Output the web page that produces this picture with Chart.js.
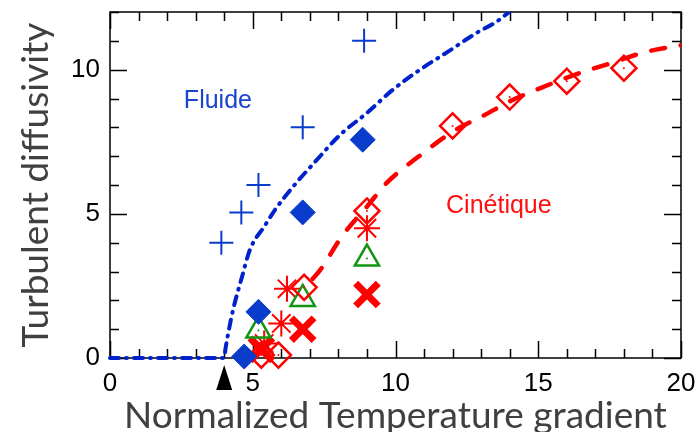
<!DOCTYPE html>
<html>
<head>
<meta charset="utf-8">
<script src="https://cdn.jsdelivr.net/npm/chart.js@4.4.0/dist/chart.umd.min.js"></script>
<style>
  html, body { margin: 0; padding: 0; background: #fff; }
  #wrap { width: 700px; height: 432px; }
</style>
</head>
<body>
<div id="wrap"><canvas id="chart" width="700" height="432"></canvas></div>
<script>
// axis tick labels
const xTicks = [0, 5, 10, 15, 20];
const yTicks = [0, 5, 10];
const threshold = 4;

// fluid model (blue dash-dot)
const fluideX = [0, 4.0, 4.05, 4.13, 4.31, 4.62, 4.9, 5.43, 5.78, 6.41, 7.18, 8.06, 9.0, 9.9, 10.86, 11.8, 12.85, 13.55, 14.1];
const fluideY = [0, 0, 0.35, 0.8, 1.67, 2.8, 3.75, 4.6, 5.14, 5.94, 6.8, 7.74, 8.5, 9.3, 10.0, 10.6, 11.28, 11.67, 12.1];

// kinetic model (red dashed)
const cinetiqueX = [7.1, 7.36, 8.16, 9.0, 9.7, 10.96, 12.0, 13.07, 14.1, 15.3, 16.5, 17.6, 18.7, 20];
const cinetiqueY = [2.75, 3.05, 4.27, 5.25, 6.08, 7.1, 7.85, 8.4, 8.95, 9.45, 9.9, 10.24, 10.6, 10.85];

// simulation points
const plusX = [3.9, 4.6, 5.2, 6.75, 8.9];
const plusY = [4.0, 5.05, 6.0, 8.0, 11.0];
const blueDiamondX = [4.7, 5.2, 6.75, 8.85];
const blueDiamondY = [0.05, 1.6, 5.05, 7.57];
const triangleX = [5.2, 6.75, 9.0];
const triangleY = [0.95, 2.05, 3.45];
const starX = [5.4, 6.0, 6.2, 9.0];
const starY = [0.5, 1.2, 2.4, 4.5];
const boldX = [5.3, 6.75, 9.0];
const boldY = [0.3, 1.0, 2.2];
const redDiamondX = [5.3, 5.9, 6.8, 9.0, 12, 14, 16, 18];
const redDiamondY = [0.1, 0.1, 2.45, 5.1, 8.05, 9.05, 9.6, 10.05];

// text annotations
const labels = [
  { text: 'Fluide', x: 3.78, y: 8.9, color: '#1a44d0' },
  { text: 'Cinétique', x: 13.62, y: 5.27, color: '#ff1010' }
];

const BLUE = '#0a3ccc';
const RED = '#ff0000';
const GREEN = '#129612';

const pts = (xs, ys) => xs.map((x, i) => ({ x: x, y: ys[i] }));

const frameTicks = {
  id: 'frameTicks',
  beforeDatasetsDraw(chart) {
    const { ctx, chartArea: a, scales: { x, y } } = chart;
    ctx.save();
    ctx.strokeStyle = '#000';
    ctx.lineWidth = 1.5;
    ctx.strokeRect(a.left, a.top, a.right - a.left, a.bottom - a.top);
    ctx.beginPath();
    for (let v = x.min; v <= x.max; v++) {
      const px = Math.round(x.getPixelForValue(v)) + 0.5;
      const len = v % 5 === 0 ? 17 : 9;
      ctx.moveTo(px, a.bottom); ctx.lineTo(px, a.bottom - len);
      ctx.moveTo(px, a.top); ctx.lineTo(px, a.top + len);
    }
    for (let v = y.min; v <= y.max; v++) {
      const py = Math.round(y.getPixelForValue(v)) + 0.5;
      const len = v % 5 === 0 ? 17 : 9;
      ctx.moveTo(a.left, py); ctx.lineTo(a.left + len, py);
      ctx.moveTo(a.right, py); ctx.lineTo(a.right - len, py);
    }
    ctx.stroke();
    ctx.restore();
  },
  afterDraw(chart) {
    const { ctx, chartArea: a, scales: { x, y } } = chart;
    ctx.save();
    // threshold arrow under the axis
    const tx = x.getPixelForValue(threshold);
    ctx.fillStyle = '#000';
    ctx.beginPath();
    ctx.moveTo(tx, a.bottom + 7);
    ctx.lineTo(tx + 8, a.bottom + 32);
    ctx.lineTo(tx - 8, a.bottom + 32);
    ctx.closePath();
    ctx.fill();
    // curve names
    ctx.font = '25px "Liberation Sans", Arial, sans-serif';
    ctx.textAlign = 'center';
    ctx.textBaseline = 'middle';
    labels.forEach(l => {
      ctx.fillStyle = l.color;
      ctx.fillText(l.text, x.getPixelForValue(l.x), y.getPixelForValue(l.y));
    });
    ctx.restore();
  }
};

const markerSet = (xs, ys, style, radius, color, fill, width) => ({
  type: 'scatter',
  data: pts(xs, ys),
  pointStyle: style,
  pointRadius: radius,
  pointHoverRadius: radius,
  pointBorderColor: color,
  pointBackgroundColor: fill,
  pointBorderWidth: width,
  clip: false
});

// hidden tick marks used only as spacing between labels and axis
const spacerGrid = { display: true, drawOnChartArea: false, drawTicks: true, tickLength: 10, tickColor: 'rgba(0,0,0,0)', color: 'rgba(0,0,0,0)' };

new Chart(document.getElementById('chart'), {
  type: 'scatter',
  data: {
    datasets: [
      {
        type: 'line',
        data: pts(fluideX, fluideY),
        borderColor: '#0022cc',
        borderWidth: 4,
        borderDash: [9, 7, 1, 7],
        borderCapStyle: 'round',
        pointRadius: 0,
        cubicInterpolationMode: 'monotone',
        fill: false,
        clip: { left: 6, top: 0, right: 0, bottom: 6 }
      },
      {
        type: 'line',
        data: pts(cinetiqueX, cinetiqueY),
        borderColor: RED,
        borderWidth: 4.5,
        borderDash: [14, 16],
        borderCapStyle: 'round',
        pointRadius: 0,
        cubicInterpolationMode: 'monotone',
        fill: false
      },
      markerSet(plusX, plusY, 'cross', 12, BLUE, BLUE, 2),
      markerSet(blueDiamondX, blueDiamondY, 'rectRot', 12.5, BLUE, BLUE, 1),
      markerSet(redDiamondX, redDiamondY, 'rectRot', 12.5, RED, 'rgba(0,0,0,0)', 2.5),
      markerSet(redDiamondX, redDiamondY, 'circle', 1, RED, RED, 0),
      markerSet(triangleX, triangleY, 'triangle', 14, GREEN, 'rgba(0,0,0,0)', 2.5),
      markerSet(triangleX, triangleY, 'circle', 1, GREEN, GREEN, 0),
      markerSet(starX, starY, 'star', 13, RED, RED, 2),
      markerSet(boldX, boldY, 'crossRot', 16, RED, RED, 7)
    ]
  },
  options: {
    responsive: false,
    animation: false,
    events: [],
    layout: { autoPadding: false, padding: { top: 12, right: 19, left: 0, bottom: 0 } },
    plugins: { legend: { display: false }, tooltip: { enabled: false } },
    scales: {
      x: {
        type: 'linear',
        min: 0,
        max: 20,
        afterBuildTicks: s => { s.ticks = xTicks.map(v => ({ value: v })); },
        afterFit: s => { s.height = 74; },
        grid: spacerGrid,
        border: { display: false },
        ticks: { color: '#000', font: { family: '"Liberation Sans", Arial', size: 26 }, padding: 0, maxRotation: 0 },
        title: {
          display: true,
          text: 'Normalized Temperature gradient',
          color: '#404040',
          font: { family: 'Lato', size: 37 },
          padding: { top: 0, bottom: -6 }
        }
      },
      y: {
        min: 0,
        max: 12,
        afterBuildTicks: s => { s.ticks = yTicks.map(v => ({ value: v })); },
        afterFit: s => { s.width = 110; },
        grid: spacerGrid,
        border: { display: false },
        ticks: { color: '#000', font: { family: '"Liberation Sans", Arial', size: 26, lineHeight: 0.9 }, padding: 0 },
        title: {
          display: true,
          text: 'Turbulent diffusivity',
          color: '#404040',
          font: { family: 'Lato', size: 37 },
          padding: { top: 14, bottom: 0 }
        }
      }
    }
  },
  plugins: [frameTicks]
});
</script>
</body>
</html>
